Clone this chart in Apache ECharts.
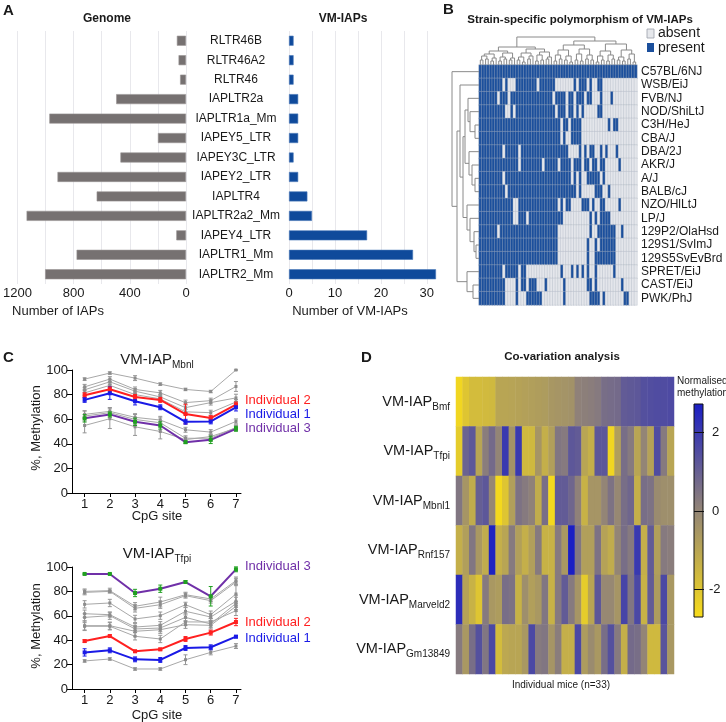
<!DOCTYPE html>
<html><head><meta charset="utf-8">
<script src="https://cdn.jsdelivr.net/npm/echarts@6/dist/echarts.min.js"></script>
<style>html,body{margin:0;padding:0;background:#fff}#c{width:726px;height:722px}</style>
</head><body><div id="c"></div>
<script>
const FONT = '"Liberation Sans", Arial, sans-serif';
const TXT = '#1a1a1a';

// ---------- Panel A ----------
const repeatFamilies = ['RLTR46B','RLTR46A2','RLTR46','IAPLTR2a','IAPLTR1a_Mm','IAPEY5_LTR','IAPEY3C_LTR','IAPEY2_LTR','IAPLTR4','IAPLTR2a2_Mm','IAPEY4_LTR','IAPLTR1_Mm','IAPLTR2_Mm'];
const genomeCounts = [65,53,42,497,973,200,467,915,636,1135,69,779,1003];
const vmIapCounts = [1,1,1,2,2,2,1,2,4,5,17,27,32];
const genomeTicks = [0,400,800,1200];
const vmTicks = [0,10,20,30];

// ---------- Panel B ----------
const strains = ['C57BL/6NJ','WSB/EiJ','FVB/NJ','NOD/ShiLtJ','C3H/HeJ','CBA/J','DBA/2J','AKR/J','A/J','BALB/cJ','NZO/HlLtJ','LP/J','129P2/OlaHsd','129S1/SvImJ','129S5SvEvBrd','SPRET/EiJ','CAST/EiJ','PWK/PhJ'];
// run lengths along the 60 VM-IAP columns, alternating present / absent (starting with present)
const presenceRuns = [
 [60],
 [9,1,1,3,8,1,6,7,1,1,3,1,1,2,2,13],
 [7,1,3,1,16,1,4,1,2,1,3,1,2,3,1,3,1,9],
 [10,2,1,1,15,1,3,1,2,1,1,1,1,5,2,13],
 [31,1,2,1,4,10,1,1,2,7],
 [31,1,1,2,4,21],
 [9,1,5,1,18,4,1,1,1,1,2,2,1,1,1,3,1,7],
 [15,1,8,1,5,1,4,1,3,1,2,1,2,1,2,5,1,6],
 [9,1,25,1,1,1,1,2,5,1,1,12],
 [10,1,26,1,1,5,3,2,1,10],
 [13,2,15,1,1,1,2,4,3,1,1,2,2,5,1,6],
 [13,2,3,1,13,10,1,1,1,1,4,10],
 [7,1,22,12,1,2,7,2,1,5],
 [30,11,1,2,1,1,6,8],
 [30,11,1,2,8,8],
 [9,1,5,1,2,13,1,3,1,1,1,1,1,1,1,2,1,6,1,8],
 [10,4,1,1,2,1,3,3,1,6,1,8,2,1,1,9,1,5],
 [10,4,1,3,6,8,1,9,4,1,1,7,2,3]
];
const nVmIapCols = 60;
// dendrograms: [left, right, mergeHeight]
const rowTree = [0,[[1,[[[2,[3,[4,5,4],9],11],[6,[7,[8,9,4],7],10],14],[10,[11,[12,[13,14,3],5],9],12],16],19],[15,[16,17,6],12],22],27];
const colTree = [
 [[[[[0,1,5],[2,3,6],9],[[4,5,4],6,7],11],[[[7,8,4],[9,10,6],8],[[11,12,5],13,7],12],14],
  [[[[14,15,5],[16,17,3],8],[[18,19,6],20,9],12],[[[21,22,4],[23,24,5],10],[[25,26,6],27,8],13],16],18],
 [[[[[28,29,4],[30,31,6],10],[[32,33,5],[34,35,3],9],15],[[[36,37,5],[38,39,4],11],[[40,41,6],[42,43,5],10],16],20],
  [[[[44,45,3],[46,47,5],9],[[48,49,4],[50,51,6],10],14],[[[52,53,5],[54,55,4],8],[[56,57,6],[58,59,3],11],15],21],24],
 28];

// ---------- Panel C ----------
const cpgSites = [1,2,3,4,5,6,7];
const mbnlGray1 = [92.6,97.5,93.4,88.5,84.2,82.5,100];
const mbnlGray2 = [86.3,92.6,84.2,81.4,73.5,75.1,86.6];
const mbnlGray3 = [83.9,90.4,82.8,78.1,69.4,73.5,77.3];
const mbnlGray4 = [81.4,87.5,80.0,76.5,66.0,65.3,74.0];
const mbnlGray5 = [63.9,66.4,61.5,59.3,51.4,49.5,58.2];
const mbnlGray6 = [62.6,65.3,59.8,57.1,44.5,44.5,53.3];
const mbnlGray7 = [54.9,60.4,53.8,50.0,43.4,45.9,52.7];
const mbnlInd2 = [79.5,84.4,78.1,75.7,64.2,60.9,71.9];
const mbnlInd1 = [75.7,81.1,74.6,69.7,57.9,58.2,69.7];
const mbnlInd3 = [60.7,63.9,57.9,54.9,41.3,43.2,52.2];
const mbnlGrayErr = [[1,1,2,1,1,1,0],[2,2,2,2,2,2,4],[2,2,2,2,4,2,3],[2,2,2,2,2,2,2],[3,3,3,3,2,2,2],[4,4,4,4,2,2,2],[6,8,7,6,2,2,2]];
const mbnlInd2Err = [2,2,2,2,8,2,2];
const mbnlInd1Err = [2,5,3,2,2,2,3];
const mbnlInd3Err = [3,2,3,3,1,3,2];

const tfpiGray1 = [80.0,80.6,67.8,71.3,77.3,73.8,88.8];
const tfpiGray2 = [79.2,80.0,66.1,69.1,76.5,72.4,87.7];
const tfpiGray3 = [69.4,70.5,57.4,60.1,69.1,60.9,77.9];
const tfpiGray4 = [61.7,60.9,50.8,52.2,63.7,59.0,71.9];
const tfpiGray5 = [58.7,60.1,49.2,50.0,58.7,53.3,70.2];
const tfpiGray6 = [51.9,51.9,47.3,48.6,52.7,52.2,67.8];
const tfpiGray7 = [51.4,51.4,43.2,41.0,55.0,54.9,64.2];
const tfpiGray8 = [23.0,24.6,16.4,16.4,24.0,30.0,35.2];
const tfpiInd3 = [94.3,94.3,78.7,82.2,87.7,76.0,98.1];
const tfpiInd2 = [39.3,43.4,30.9,32.5,41.0,46.2,54.9];
const tfpiInd1 = [30.0,31.7,24.3,23.8,33.6,34.2,42.9];
const tfpiGrayErr = [[2,2,3,4,2,2,3],[2,1,3,3,2,2,3],[3,3,3,3,2,3,8],[3,2,3,3,3,3,5],[3,3,3,3,3,3,5],[4,3,4,3,3,3,4],[3,3,3,3,3,3,4],[1,1,1,1,4,2,2]];
const tfpiInd3Err = [0.5,0.5,3,3,1,8,2];
const tfpiInd2Err = [1,1,1,1,2,2,3];
const tfpiInd1Err = [3,2,2,2,2,2,1];

// ---------- Panel D ----------
const dLoci = ['Bmf','Tfpi','Mbnl1','Rnf157','Marveld2','Gm13849'];
const bmfZ = [-2.5,-2.0,-1.7,-1.7,-1.65,-1.6,-1.0,-1.0,-0.95,-0.9,-0.85,-0.8,-0.75,-0.7,-0.55,-0.5,-0.45,-0.4,0.1,0.15,0.2,0.3,0.6,0.65,0.7,1.1,1.15,1.2,1.4,1.45,1.5,1.5,1.55];
const tfpiZ = [-2.2,0.9,1.2,-1.0,0.2,0.7,0,2.0,-0.4,2.0,-1.6,-1.6,-0.5,-1.3,-0.8,0.4,0.3,1.2,1.1,-1.0,-1.3,1.2,1.2,-2.5,-0.8,0.6,0.3,-1.0,0,-0.9,1.5,0.3,-1.0];
const mbnl1Z = [0.4,-0.5,-1.2,1.0,1.2,-0.1,-2.6,-2.0,-0.8,0.5,0.3,0.1,-1.2,0.6,-2.6,1.1,1.1,0.8,0.1,-1.4,-0.5,-0.5,0,0.5,-0.1,0.6,0.8,-1.3,0.6,0.5,-0.2,-0.3,-0.3];
const rnf157Z = [-1.3,-0.8,0.4,-0.6,-1.2,2.6,-1.3,-1.0,0.3,-0.8,-1.3,-0.8,0.3,-1.4,-1.4,0.3,-0.6,2.8,0.4,-0.8,-0.8,0.5,-0.9,-1.2,0,0.6,0.3,2.0,-1.3,1.1,-0.8,0.3,0.2];
const marveld2Z = [2.3,-0.9,-1.4,-2.0,0.3,-0.6,-0.7,0.6,0.5,-1.4,-0.3,-0.8,-0.6,0.4,-1.4,0.3,1.1,0.3,-0.5,-2.2,-1.0,1.2,-0.1,-0.1,-0.5,1.7,0.4,1.6,-1.4,1.1,-0.7,1.6,-0.6];
const gm13849Z = [0.3,-0.6,0.6,1.4,0.4,1.6,-1.7,-1.1,-1.0,-1.0,-0.6,1.6,0.3,0.4,-0.5,0.2,-1.3,-1.3,1.6,-0.7,-0.2,-0.6,0.6,1.4,0.3,-1.3,0.7,0.6,0,-1.6,-1.6,1.3,-0.6];
const colorbarTicks = [2,0,-2];
const zRange = [-2.7, 2.7];
const zColors = ['#f8dc1a','#938576','#1a1ec4'];

// ================== build ==================
function decodeRuns(runs){ const out=[]; let v=1; runs.forEach(n=>{for(let i=0;i<n;i++) out.push(v); v=1-v;}); return out; }
const bData = [];
presenceRuns.forEach((runs,r)=>{ decodeRuns(runs).slice(0,nVmIapCols).forEach((v,c)=>bData.push([c,r,v])); });
const bCols = Array.from({length:nVmIapCols},(_,i)=>String(i));

function treeSegs(tree, swap){
  const segs=[];
  (function lay(n){
    if(typeof n==='number') return {p:n,h:0};
    const a=lay(n[0]), b=lay(n[1]), h=n[2];
    const pts=[[a.p,a.h],[a.p,h],[b.p,h],[b.p,b.h]];
    segs.push({coords: swap ? pts.map(q=>[q[1],q[0]]) : pts});
    return {p:(a.p+b.p)/2,h:h};
  })(tree);
  return segs;
}

const dRowsZ = [bmfZ,tfpiZ,mbnl1Z,rnf157Z,marveld2Z,gm13849Z];
const dData = [];
dRowsZ.forEach((row,r)=>row.forEach((v,c)=>dData.push([c,r,v])));
const dCols = Array.from({length:bmfZ.length},(_,i)=>String(i));

const series = [];
series.push({type:'bar', xAxisIndex:0, yAxisIndex:0, data:genomeCounts, barWidth:10,
  itemStyle:{color:'#767171', borderColor:'#989494', borderWidth:0.6}, silent:true});
series.push({type:'bar', xAxisIndex:1, yAxisIndex:1, data:vmIapCounts, barWidth:10,
  itemStyle:{color:'#0f4a9b', borderColor:'#4a78b8', borderWidth:0.6}, silent:true});
const idxB = series.length;
series.push({type:'heatmap', xAxisIndex:2, yAxisIndex:2, data:bData, silent:true,
  itemStyle:{borderColor:'rgba(175,182,195,0.75)', borderWidth:0.5}});
series.push({type:'lines', coordinateSystem:'cartesian2d', xAxisIndex:3, yAxisIndex:3, polyline:true, silent:true,
  data:treeSegs(rowTree,true), lineStyle:{color:'#8a8a8a', width:1, opacity:1}});
series.push({type:'lines', coordinateSystem:'cartesian2d', xAxisIndex:4, yAxisIndex:4, polyline:true, silent:true,
  data:treeSegs(colTree,false), lineStyle:{color:'#8a8a8a', width:1, opacity:1}});

function errRender(color){
  return function(params, api){
    const x=api.value(0), lo=api.value(1), hi=api.value(2);
    const p1=api.coord([x,lo]), p2=api.coord([x,hi]); const w=2;
    const st={stroke:color, lineWidth:1};
    return {type:'group', children:[
      {type:'line', shape:{x1:p1[0],y1:p1[1],x2:p2[0],y2:p2[1]}, style:st},
      {type:'line', shape:{x1:p1[0]-w,y1:p1[1],x2:p1[0]+w,y2:p1[1]}, style:st},
      {type:'line', shape:{x1:p2[0]-w,y1:p2[1],x2:p2[0]+w,y2:p2[1]}, style:st}
    ]};
  };
}
function addLine(ai, vals, errs, color, width, errColor, z){
  series.push({type:'custom', xAxisIndex:ai, yAxisIndex:ai, renderItem:errRender(errColor), silent:true, z:z,
    data:vals.map((v,i)=>[cpgSites[i], v-errs[i], v+errs[i]]), encode:{x:0,y:[1,2]}});
  series.push({type:'line', xAxisIndex:ai, yAxisIndex:ai, data:vals.map((v,i)=>[cpgSites[i],v]), silent:true, z:z,
    symbol:'rect', symbolSize: width>1?4:3, lineStyle:{color:color,width:width}, itemStyle:{color: width>1?errColor:'#8c8c8c'}});
}
const GRAY='#a8a8a8', GRAYE='#959595';
[mbnlGray1,mbnlGray2,mbnlGray3,mbnlGray4,mbnlGray5,mbnlGray6,mbnlGray7].forEach((v,i)=>addLine(5,v,mbnlGrayErr[i],GRAY,1,GRAYE,2));
addLine(5,mbnlInd2,mbnlInd2Err,'#ff2020',2,'#ff2020',3);
addLine(5,mbnlInd1,mbnlInd1Err,'#1a1ae6',2,'#1a1ae6',3);
addLine(5,mbnlInd3,mbnlInd3Err,'#7030a8',2,'#20a020',3);
[tfpiGray1,tfpiGray2,tfpiGray3,tfpiGray4,tfpiGray5,tfpiGray6,tfpiGray7,tfpiGray8].forEach((v,i)=>addLine(6,v,tfpiGrayErr[i],GRAY,1,GRAYE,2));
addLine(6,tfpiInd3,tfpiInd3Err,'#7030a8',2,'#20a020',3);
addLine(6,tfpiInd2,tfpiInd2Err,'#ff2020',2,'#ff2020',3);
addLine(6,tfpiInd1,tfpiInd1Err,'#1a1ae6',2,'#1a1ae6',3);

const idxD = series.length;
series.push({type:'heatmap', xAxisIndex:7, yAxisIndex:7, data:dData, silent:true});

const base = {fontFamily:FONT, color:TXT};
const cX = gi => ({gridIndex:gi, type:'value', min:0.5, max:7.2,
  axisLine:{show:true, onZero:false, lineStyle:{color:'#000', width:1}},
  axisTick:{show:true, customValues:cpgSites, length:4, lineStyle:{color:'#000'}},
  axisLabel:Object.assign({customValues:cpgSites, fontSize:13, margin:5}, base), splitLine:{show:false}});
const cY = gi => ({gridIndex:gi, type:'value', min:0, max:100, interval:20,
  axisLine:{show:true, onZero:false, lineStyle:{color:'#000', width:1}},
  axisTick:{show:true, length:5, lineStyle:{color:'#000'}},
  axisLabel:Object.assign({fontSize:13, margin:4}, base), splitLine:{show:false}});

// colour bar geometry (legend graphic, values -> pixels)
const cbTop = 404, cbBottom = 617;
const cbY = v => cbBottom - (v - zRange[0]) / (zRange[1]-zRange[0]) * (cbBottom - cbTop);

const graphic = [];
function txt(x,y,text,opt){ graphic.push({type:'text', x:x, y:y, silent:true, style:Object.assign({text:text, fontFamily:FONT, fill:TXT, fontSize:12, align:'left', verticalAlign:'middle'}, opt||{})}); }
txt(3,11,'A',{fontSize:15,fontWeight:'bold'});
txt(443,10,'B',{fontSize:15,fontWeight:'bold'});
txt(3,358,'C',{fontSize:15,fontWeight:'bold'});
txt(361,358,'D',{fontSize:15,fontWeight:'bold'});
txt(107,19,'Genome',{fontWeight:'bold',align:'center'});
txt(343,19,'VM-IAPs',{fontWeight:'bold',align:'center'});
txt(58,311,'Number of IAPs',{fontSize:13,align:'center'});
txt(350,311,'Number of VM-IAPs',{fontSize:13,align:'center'});
txt(580,20,'Strain-specific polymorphism of VM-IAPs',{fontWeight:'bold',fontSize:11.5,align:'center'});
graphic.push({type:'rect', shape:{x:647,y:29,width:7,height:9}, style:{fill:'#e6e8ec', stroke:'#9aa0aa', lineWidth:0.8}, silent:true});
graphic.push({type:'rect', shape:{x:647,y:43,width:7,height:9}, style:{fill:'#1b4f9c'}, silent:true});
txt(658,33,'absent',{fontSize:14});
txt(658,48,'present',{fontSize:14});
// C texts
const richTitle = {a:{fontSize:15, fontFamily:FONT, fill:TXT, lineHeight:20}, s:{fontSize:10, fontFamily:FONT, fill:TXT, lineHeight:10, verticalAlign:'bottom'}};
graphic.push({type:'text', x:157, y:360, silent:true, style:{text:'{a|VM-IAP}{s|Mbnl}', rich:richTitle, align:'center', verticalAlign:'middle'}});
graphic.push({type:'text', x:157, y:554, silent:true, style:{text:'{a|VM-IAP}{s|Tfpi}', rich:richTitle, align:'center', verticalAlign:'middle'}});
graphic.push({type:'text', x:36, y:428, rotation:Math.PI/2, silent:true, style:{text:'%, Methylation', fontFamily:FONT, fill:TXT, fontSize:13, align:'center', verticalAlign:'middle'}});
graphic.push({type:'text', x:36, y:626, rotation:Math.PI/2, silent:true, style:{text:'%, Methylation', fontFamily:FONT, fill:TXT, fontSize:13, align:'center', verticalAlign:'middle'}});
txt(157,516,'CpG site',{fontSize:13,align:'center'});
txt(157,715,'CpG site',{fontSize:13,align:'center'});
txt(245,400,'Individual 2',{fontSize:13,fill:'#ff2020'});
txt(245,414,'Individual 1',{fontSize:13,fill:'#1a1ae6'});
txt(245,428,'Individual 3',{fontSize:13,fill:'#7030a8'});
txt(245,566,'Individual 3',{fontSize:13,fill:'#7030a8'});
txt(245,622,'Individual 2',{fontSize:13,fill:'#ff2020'});
txt(245,638,'Individual 1',{fontSize:13,fill:'#1a1ae6'});
// D texts
txt(562,357,'Co-variation analysis',{fontWeight:'bold',fontSize:11.5,align:'center'});
txt(677,381,'Normalised',{fontSize:10});
txt(677,393,'methylation',{fontSize:10});
txt(561,685,'Individual mice (n=33)',{fontSize:10,align:'center'});
graphic.push({type:'rect', silent:true, shape:{x:694,y:cbTop,width:9,height:cbBottom-cbTop},
  style:{fill:{type:'linear',x:0,y:0,x2:0,y2:1,colorStops:[{offset:0,color:zColors[2]},{offset:0.5,color:zColors[1]},{offset:1,color:zColors[0]}]}, stroke:'#111', lineWidth:1}});
colorbarTicks.forEach(v=>{
  const y=Math.round(cbY(v))+0.5;
  graphic.push({type:'line', silent:true, shape:{x1:694,y1:y,x2:704,y2:y}, style:{stroke:'#111', lineWidth:1}});
  txt(v<0?709:712, y, String(v), {fontSize:13});
});

const option = {
  backgroundColor:'#fff',
  animation:false,
  textStyle:{fontFamily:FONT},
  grid:[
    {left:13, top:31, width:173, height:253},
    {left:289, top:31, width:147, height:253},
    {left:479, top:65, width:158, height:240},
    {left:450, top:65, width:29, height:240},
    {left:479, top:33, width:158, height:32},
    {left:72, top:370, width:169, height:123},
    {left:72, top:567, width:169, height:122},
    {left:456, top:377, width:218, height:297}
  ],
  xAxis:[
    {gridIndex:0, type:'value', inverse:true, min:0, max:1200, interval:200,
      splitLine:{show:true, lineStyle:{color:'#e8e8ec', width:1}}, axisLine:{show:false}, axisTick:{show:false},
      axisLabel:Object.assign({customValues:genomeTicks, fontSize:13, margin:3, formatter: v => String(v)}, base)},
    {gridIndex:1, type:'value', min:0, max:32, interval:5,
      splitLine:{show:true, showMaxLine:false, lineStyle:{color:'#e8e8ec', width:1}}, axisLine:{show:false}, axisTick:{show:false},
      axisLabel:Object.assign({customValues:vmTicks, fontSize:13, margin:3, formatter: v => String(v)}, base)},
    {gridIndex:2, type:'category', data:bCols, show:false},
    {gridIndex:3, type:'value', min:0, max:29, inverse:true, show:false},
    {gridIndex:4, type:'value', min:-0.5, max:nVmIapCols-0.5, show:false},
    cX(5), cX(6),
    {gridIndex:7, type:'category', data:dCols, show:false}
  ],
  yAxis:[
    {gridIndex:0, type:'category', data:repeatFamilies, inverse:true, position:'right',
      axisLine:{show:false, onZero:false}, axisTick:{show:false},
      axisLabel:Object.assign({align:'center', margin:50, fontSize:12, interval:0}, base)},
    {gridIndex:1, type:'category', data:repeatFamilies, inverse:true, axisLine:{show:false,onZero:false}, axisTick:{show:false}, axisLabel:{show:false}},
    {gridIndex:2, type:'category', data:strains, inverse:true, position:'right',
      axisLine:{show:false}, axisTick:{show:false}, axisLabel:Object.assign({fontSize:12, margin:4, interval:0}, base)},
    {gridIndex:3, type:'value', min:-0.5, max:strains.length-0.5, inverse:true, show:false},
    {gridIndex:4, type:'value', min:0, max:32, show:false},
    cY(5), cY(6),
    {gridIndex:7, type:'category', data:dLoci, inverse:true, axisLine:{show:false}, axisTick:{show:false},
      axisLabel:{margin:6, interval:0, formatter: v => '{a|VM-IAP}{s|' + v + '}',
        rich:{a:{fontSize:14.5, fontFamily:FONT, color:TXT, lineHeight:20}, s:{fontSize:10, fontFamily:FONT, color:TXT, lineHeight:10, verticalAlign:'bottom'}}}}
  ],
  visualMap:[
    {type:'piecewise', show:false, seriesIndex:idxB, dimension:2,
      pieces:[{min:-0.5,max:0.5,color:'#e4e6eb'},{min:0.5,max:1.5,color:'#1b4f9c'}]},
    {type:'continuous', show:false, seriesIndex:idxD, dimension:2, min:zRange[0], max:zRange[1], inRange:{color:zColors}}
  ],
  series: series,
  graphic: graphic
};
const chart = echarts.init(document.getElementById('c'), null, {renderer:'canvas'});
chart.setOption(option);
</script></body></html>
